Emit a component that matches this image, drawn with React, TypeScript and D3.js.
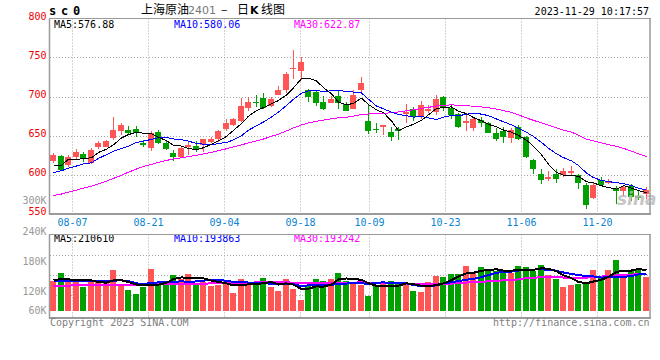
import React from "react";
import * as d3 from "d3";

// ---------- data ----------
const dates = ["08-02","08-03","08-04","08-07","08-08","08-09","08-10","08-11","08-14","08-15","08-16","08-17","08-18","08-21","08-22","08-23","08-24","08-25","08-28","08-29","08-30","08-31","09-01","09-04","09-05","09-06","09-07","09-08","09-11","09-12","09-13","09-14","09-15","09-18","09-19","09-20","09-21","09-22","09-25","09-26","09-27","09-28","10-09","10-10","10-11","10-12","10-13","10-16","10-17","10-18","10-19","10-20","10-23","10-24","10-25","10-26","10-27","10-30","10-31","11-01","11-02","11-03","11-06","11-07","11-08","11-09","11-10","11-13","11-14","11-15","11-16","11-17","11-20","11-21","11-22","11-23","11-24","11-27","11-28","11-29"];

const openP = [617.3,623.7,611.8,622.0,626.3,614.4,634.9,635.6,646.8,656.2,657.0,658.3,640.8,634.0,654.5,640.0,627.6,622.8,635.6,636.5,637.4,641.7,645.0,658.0,663.0,668.2,685.3,693.3,698.0,687.8,702.3,708.3,734.9,733.0,708.3,705.8,693.0,692.0,700.6,690.4,684.4,708.3,669.0,658.7,660.5,654.5,658.7,677.6,683.6,673.3,681.0,680.1,699.7,685.3,677.6,665.6,659.6,669.9,665.6,653.6,656.2,646.8,661.3,647.7,618.6,600.6,594.6,600.6,599.0,601.5,599.7,586.2,569.9,592.9,588.7,581.0,578.5,585.3,572.4,575.0];
const highP = [627.2,624.6,624.6,632.3,628.8,634.0,643.0,644.2,673.3,666.4,662.2,662.2,644.2,655.4,657.0,644.2,631.4,636.5,643.0,643.0,645.0,648.0,657.0,671.5,672.4,698.0,699.7,701.5,704.9,699.7,713.5,731.4,759.6,751.0,710.0,707.4,700.6,700.6,707.4,693.0,708.3,725.4,688.7,666.4,663.8,660.5,660.5,690.4,686.9,693.8,688.7,702.3,700.6,690.4,679.2,678.5,673.3,674.1,667.3,659.6,661.3,659.6,663.0,649.4,620.3,606.7,604.9,607.4,608.3,610.9,600.6,588.7,588.7,596.4,594.6,585.3,585.3,587.8,579.2,584.4];
const lowP = [615.1,604.9,610.0,619.5,616.0,613.5,632.3,634.9,644.2,650.3,650.3,648.5,634.9,630.5,639.0,631.4,617.7,622.0,625.4,628.8,629.2,640.8,641.7,656.2,662.2,667.3,681.8,687.0,684.4,686.2,701.5,704.0,722.0,721.2,693.0,687.8,682.7,691.3,684.4,681.0,683.6,704.9,652.0,653.6,650.3,643.3,644.2,666.4,668.2,670.8,678.5,676.7,681.8,670.8,659.6,656.2,656.2,661.3,652.8,643.3,640.8,640.8,644.2,621.2,600.6,587.8,592.1,589.5,596.4,598.1,581.8,556.2,568.2,586.2,587.8,562.2,571.5,566.4,567.3,569.0];
const closeP = [625.0,605.8,622.0,628.8,619.5,631.4,640.0,642.6,657.0,663.0,653.6,653.2,638.2,652.8,640.0,633.0,622.4,634.0,637.8,632.3,645.0,645.0,655.4,666.4,671.5,687.8,693.0,691.3,685.3,696.4,708.3,728.8,736.5,744.2,699.7,691.3,684.4,697.2,691.3,681.8,701.5,717.7,656.2,657.0,663.8,648.5,656.2,680.1,673.3,688.7,684.4,696.4,686.9,676.7,661.3,669.0,670.8,666.4,653.6,645.9,648.5,657.0,645.9,622.8,607.4,593.0,596.4,594.6,604.9,604.1,588.7,561.3,586.9,586.9,592.1,579.2,583.6,571.5,569.9,580.1];
const volume = [156000,197000,160000,153000,125000,153000,153000,146000,211000,129000,108000,88000,122000,218000,143000,153000,187000,166000,191000,146000,149000,129000,135000,153000,94000,163000,139000,149000,170000,125000,105000,163000,115000,57000,135000,163000,156000,166000,197000,156000,149000,135000,79000,129000,139000,156000,149000,139000,105000,98000,149000,180000,177000,191000,191000,232000,194000,228000,211000,208000,201000,194000,232000,228000,208000,237000,184000,166000,125000,135000,139000,149000,211000,170000,211000,263000,187000,211000,211000,177000];

// moving-average values for the first days (history before the window)
const ma5Lead = [611.8,611.8,619.5,619.5];
const ma10Lead = [602.3,604.9,608.0,610.9,613.5,615.1,620.7,625.4,629.7];
const ma30Lead = [573.0,575.0,577.5,580.0,582.5,585.0,588.0,591.5,595.0,599.0,603.0,607.0,610.5,613.0,615.5,618.0,620.0,621.5,623.0,624.5,626.5,628.5,630.5,633.0,635.5,638.0,640.5,643.0,645.5];
const vma5Lead = [158000,165000,163000,158000];
const vma10Lead = [154000,154000,155000,155000,155000,154000,154000,155000,156000];
const vma30Lead = [130000,131000,131000,132000,133000,133000,134000,134000,135000,135000,136000,136000,137000,137000,138000,138000,139000,139000,140000,140000,141000,142000,143000,144000,145000,145000,146000,147000,148000];

const priceTicks = [800, 750, 700, 650, 600, 550];
const volTickValues = [300000, 240000, 180000, 120000, 60000];
const volTickLabels = ["300K", "240K", "180K", "120K", "60K"];
const dateTickLabels = ["08-07", "08-21", "09-04", "09-18", "10-09", "10-23", "11-06", "11-20"];
const maHeader = ["MA5:576.88", "MA10:580.06", "MA30:622.87"];
const vmaHeader = ["MA5:210610", "MA10:193863", "MA30:193242"];

// ---------- style ----------
const RED = "#ff5555";
const GREEN = "#00a000";
const MA_COLORS = ["#000000", "#0000ff", "#ff00ff"];
const GRID = "#a8a8a8";
const FRAME = "#9a9a9a";
const MONO = "'DejaVu Sans Mono', 'Liberation Mono', monospace";
const CJK = "'Noto Sans CJK SC', 'Noto Sans', sans-serif";

function movingAvg(vals: number[], n: number, lead: number[]): number[] {
  return vals.map((_, i) => (i >= n - 1 ? (d3.mean(vals.slice(i - n + 1, i + 1)) as number) : lead[i]));
}

export default function App() {
  const W = 660, H = 360;
  const n = dates.length;
  const idx = d3.range(n);

  const x = d3.scaleBand<number>().domain(idx).range([50, 650]).paddingInner(0.2).paddingOuter(0.1);
  const xGrid = d3.scaleLinear().domain([0, n - 1]).range([49.5, 650]);
  const y = d3.scaleLinear().domain([550, 800]).range([213.5, 18.5]);
  const yVol = d3.scaleLinear().domain([0, 400000]).range([311, 311 - 400000 / 5150]);
  const yVolLabel = d3.scaleLinear().domain([120000, 180000]).range([294.5, 264.5]);

  const bw = Math.round(x.bandwidth());
  const bx = (i: number) => Math.floor(x(i) as number);
  const cx = (i: number) => bx(i) + 3.5;

  const mas = [movingAvg(closeP, 5, ma5Lead), movingAvg(closeP, 10, ma10Lead), movingAvg(closeP, 30, ma30Lead)];
  const vmas = [movingAvg(volume, 5, vma5Lead), movingAvg(volume, 10, vma10Lead), movingAvg(volume, 30, vma30Lead)];

  const priceLine = (arr: number[]) => d3.line<number>().x((i) => cx(i)).y((i) => y(arr[i]))(idx) || "";
  const volLine = (arr: number[]) => d3.line<number>().x((i) => cx(i)).y((i) => yVol(arr[i]))(idx) || "";

  const gridXs = dateTickLabels.map((d) => Math.round(xGrid(dates.indexOf(d))) + 0.5);
  const mainTop = y(800), mainBot = 214;
  const volTop = 234.5, volBot = 318;
  const volGridYs = [255.5, 275.5, 295.5];
  const maX = [54, 174, 294];

  return (
    <svg width={W} height={H} viewBox={`0 0 ${W} ${H}`} style={{ position: "absolute", left: 0, top: 0, background: "#fff" }}>
      <rect x={0} y={0} width={W} height={H} fill="#fff" />

      {/* header */}
      <text x={49} y={15} fontFamily={MONO} fontWeight="bold" fontSize={12} letterSpacing={4.8} fill="#000">sc0</text>
      <text y={14} fontFamily={CJK} fontSize={12} fill="#000">
        <tspan x={141}>上海原油</tspan>
        <tspan x={188} fill="#777" fontFamily="'DejaVu Sans', sans-serif" fontSize={11}>2401</tspan>
        <tspan x={221}>–</tspan>
        <tspan x={237}>日</tspan>
        <tspan x={250} fontWeight="bold" fontFamily="'DejaVu Sans', sans-serif" fontSize={11}>K</tspan>
        <tspan x={261}>线图</tspan>
      </text>
      <text x={649} y={15} textAnchor="end" fontFamily={MONO} fontSize={10} fill="#000">2023-11-29 10:17:57</text>

      {/* main grid */}
      {priceTicks.filter((p) => p !== 800 && p !== 550).map((p) => (
        <line key={"hg" + p} x1={50} x2={649} y1={Math.round(y(p)) + 0.5} y2={Math.round(y(p)) + 0.5} stroke={GRID} strokeDasharray="1 2" />
      ))}
      {gridXs.map((gx, k) => (
        <line key={"vg" + k} x1={gx} x2={gx} y1={mainTop} y2={mainBot} stroke={GRID} strokeDasharray="1 2" />
      ))}

      {/* price labels */}
      {priceTicks.map((p) => (
        <text key={"pl" + p} x={46.5} y={y(p) + 1.8} textAnchor="end" fontFamily={MONO} fontSize={10} fill="#ee0000">{p}</text>
      ))}
      <text x={46.5} y={204} textAnchor="end" fontFamily={MONO} fontSize={10} fill="#999">{volTickLabels[0]}</text>

      {/* candles */}
      {idx.map((i) => {
        const o = openP[i], c = closeP[i];
        const col = c >= o ? RED : GREEN;
        const yt = Math.round(y(Math.max(o, c)));
        const yb = Math.round(y(Math.min(o, c)));
        const yh = Math.round(y(highP[i]));
        const yl = Math.round(y(lowP[i]));
        return (
          <g key={"c" + i} shapeRendering="crispEdges">
            <rect x={bx(i) + 3} y={yh} width={1} height={Math.max(1, yl - yh)} fill={col} />
            <rect x={bx(i)} y={yt} width={bw} height={Math.max(1, yb - yt)} fill={col} />
          </g>
        );
      })}

      {/* MA lines */}
      {mas.slice().reverse().map((m, k) => (
        <path key={"ma" + k} d={priceLine(m)} fill="none" stroke={MA_COLORS[2 - k]} strokeWidth={1} shapeRendering="crispEdges" />
      ))}

      {/* watermark */}
      <text x={617} y={205} fontFamily="'DejaVu Sans', sans-serif" fontStyle="italic" fontWeight="bold" fontSize={17} fill="#bdbdbd" opacity={0.85}>sina</text>

      {maHeader.map((t, k) => (
        <text key={"mh" + k} x={maX[k]} y={27.5} fontFamily={MONO} fontSize={10} fill={MA_COLORS[k]}>{t}</text>
      ))}

      {/* main frame */}
      <line x1={49} x2={651} y1={mainTop} y2={mainTop} stroke={FRAME} strokeWidth={1} />
      <line x1={49.5} x2={49.5} y1={mainTop} y2={mainBot + 1} stroke={FRAME} strokeWidth={1.5} />
      <line x1={650} x2={650} y1={mainTop} y2={mainBot + 1} stroke={FRAME} strokeWidth={1.5} />
      <line x1={49} x2={651} y1={mainBot} y2={mainBot} stroke={FRAME} strokeWidth={2} />

      {/* date labels */}
      {dateTickLabels.map((d, k) => (
        <text key={"dl" + d} x={gridXs[k]} y={225.5} textAnchor="middle" fontFamily={MONO} fontSize={10} fill="#0a84d0">{d}</text>
      ))}

      {/* volume panel */}
      {volGridYs.map((gy) => (
        <line key={"vh" + gy} x1={50} x2={649} y1={gy} y2={gy} stroke={GRID} strokeDasharray="1 2" />
      ))}
      {gridXs.map((gx, k) => (
        <line key={"vv" + k} x1={gx} x2={gx} y1={volTop} y2={volBot} stroke={GRID} strokeDasharray="1 2" />
      ))}
      {volTickValues.slice(1).map((v, k) => (
        <text key={"vl" + v} x={46.5} y={Math.min(314, yVolLabel(v))} textAnchor="end" fontFamily={MONO} fontSize={10} fill="#999">{volTickLabels[k + 1]}</text>
      ))}
      {idx.map((i) => {
        const col = closeP[i] >= openP[i] ? RED : GREEN;
        const yt = Math.round(yVol(volume[i]));
        return <rect key={"v" + i} x={bx(i)} y={yt} width={bw} height={311 - yt} fill={col} shapeRendering="crispEdges" />;
      })}
      {vmas.slice().reverse().map((m, k) => (
        <path key={"vma" + k} d={volLine(m)} fill="none" stroke={MA_COLORS[2 - k]} strokeWidth={2} shapeRendering="crispEdges" />
      ))}
      {vmaHeader.map((t, k) => (
        <text key={"vh" + k} x={maX[k]} y={242} fontFamily={MONO} fontSize={10} fill={MA_COLORS[k]}>{t}</text>
      ))}
      <line x1={49} x2={651} y1={volTop} y2={volTop} stroke={FRAME} strokeWidth={1} />
      <line x1={49.5} x2={49.5} y1={volTop} y2={volBot + 1} stroke={FRAME} strokeWidth={1.5} />
      <line x1={650} x2={650} y1={volTop} y2={volBot + 1} stroke={FRAME} strokeWidth={1.5} />
      <line x1={49} x2={651} y1={volBot} y2={volBot} stroke={FRAME} strokeWidth={2} />

      {/* footer */}
      <text x={50} y={326} fontFamily={MONO} fontSize={10} fill="#808080">Copyright 2023 SINA.COM</text>
      <text x={649.5} y={326} textAnchor="end" fontFamily={MONO} fontSize={10} fill="#808080">http://finance.sina.com.cn</text>
    </svg>
  );
}
